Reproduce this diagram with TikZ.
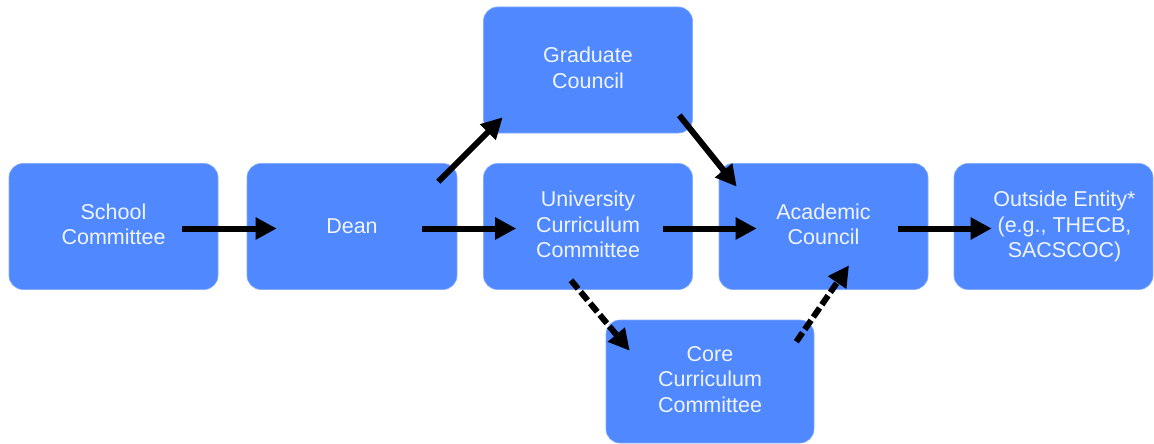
\documentclass[tikz,border=0pt]{standalone}
\usepackage{fontspec}
\setmainfont{Liberation Sans}
\usetikzlibrary{arrows.meta,calc}
\definecolor{boxblue}{RGB}{79,136,255}
\definecolor{boxtext}{RGB}{240,244,255}
\begin{document}
\begin{tikzpicture}[x=1pt,y=-1pt,
  box/.style={rectangle, rounded corners=14pt, fill=boxblue, draw=boxblue!70!white, line width=0.6pt,
    minimum width=209pt, minimum height=126pt, inner sep=0pt, text=boxtext, align=center,
    font=\fontsize{21.5pt}{25.5pt}\selectfont},
  flow/.style={line width=6pt, -{Triangle[length=21pt,width=21pt]}},
  dflow/.style={flow, dash pattern=on 11pt off 4pt}]
\useasboundingbox (0,0) rectangle (1154,444);
\node[box] (sc) at (113.5,226.5) {School\\Committee\vphantom{p}};
\node[box, minimum width=210pt] (dean) at (352,226.5) {Dean};
\node[box] (grad) at (588,70) {Graduate\\Council\vphantom{p}};
\node[box] (ucc) at (588,226.5) {University\\Curriculum\\Committee\vphantom{p}};
\node[box] (ac) at (823.5,226.5) {Academic\\Council\vphantom{p}};
\node[box, minimum width=199pt] (oe) at (1053.5,226.5) {};
\node[text=boxtext, align=center, inner sep=0pt, font=\fontsize{21.5pt}{25.5pt}\selectfont] (oet) at ($(oe.center)+(11,0)$) {Outside Entity*\\(e.g., THECB,\\SACSCOC)};
\node[box, minimum width=208pt, minimum height=123pt] (core) at (710,381.5) {Core\\Curriculum\\Committee\vphantom{p}};
\draw[flow] ($(sc.east)+(-36,2)$) -- ($(dean.west)+(30,2)$);
\draw[flow] ($(dean.east)+(-35,2)$) -- ($(ucc.west)+(33,2)$);
\draw[flow] ($(ucc.east)+(-30,2)$) -- ($(ac.west)+(38,2)$);
\draw[flow] ($(ac.east)+(-30,2)$) -- ($(oe.west)+(38,2)$);
\draw[flow] ($(dean.north east)+(-19,18.5)$) -- ($(grad.south west)+(19.5,-16)$);
\draw[flow] ($(grad.south east)+(-13.5,-18)$) -- ($(ac.north west)+(18,23.5)$);
\draw[dflow] ($(ucc.south)+(-17,-9.5)$) -- ($(core.north west)+(24,31)$);
\draw[dflow] ($(core.north east)+(-18,22)$) -- ($(ac.south)+(25.5,-24.5)$);
\end{tikzpicture}
\end{document}
